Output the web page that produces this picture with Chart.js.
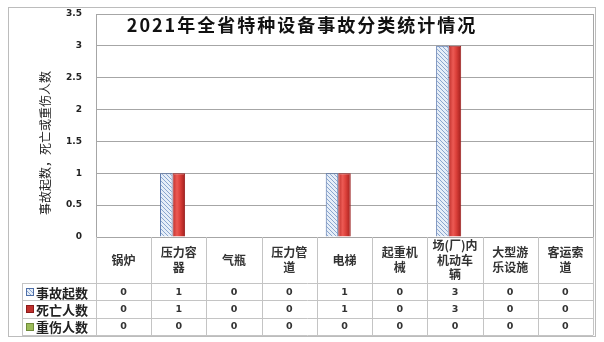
<!DOCTYPE html>
<html>
<head>
<meta charset="utf-8">
<script src="https://cdn.jsdelivr.net/npm/chart.js@4.4.1/dist/chart.umd.min.js"></script>
<style>
  body { margin: 0; background: #fff; }
  #contenedor { width: 604px; height: 342px; position: relative; }
</style>
</head>
<body>
<div id="contenedor"><canvas id="graficoAccidentes"></canvas></div>
<script>
const categorias = [
  ["锅炉"],
  ["压力容", "器"],
  ["气瓶"],
  ["压力管", "道"],
  ["电梯"],
  ["起重机", "械"],
  ["场(厂)内", "机动车", "辆"],
  ["大型游", "乐设施"],
  ["客运索", "道"],
];
const nombresSeries = ["事故起数", "死亡人数", "重伤人数"];
const accidentes = [0, 1, 0, 0, 1, 0, 3, 0, 0];
const muertes = [0, 1, 0, 0, 1, 0, 3, 0, 0];
const heridos = [0, 0, 0, 0, 0, 0, 0, 0, 0];
const ticksY = [0, 0.5, 1, 1.5, 2, 2.5, 3, 3.5];

const titulo = "2021年全省特种设备事故分类统计情况";
const tituloEjeY = "事故起数，死亡或重伤人数";

const ctx = document.getElementById("graficoAccidentes").getContext("2d");

// Patrón rayado para la serie azul
function crearRayado() {
  const c = document.createElement("canvas");
  c.width = 4;
  c.height = 4;
  const g = c.getContext("2d");
  g.fillStyle = "#e6eef8";
  g.fillRect(0, 0, 4, 4);
  g.strokeStyle = "#8aa6cf";
  g.lineWidth = 1;
  g.beginPath();
  g.moveTo(-1, -1);
  g.lineTo(5, 5);
  g.moveTo(-1, 3);
  g.lineTo(1, 5);
  g.moveTo(3, -1);
  g.lineTo(5, 1);
  g.stroke();
  return ctx.createPattern(c, "repeat");
}
const rayado = crearRayado();

const PORC_CATEGORIA = 0.68;

// Degradado horizontal para las barras rojas (calculado desde la escala)
function degradadoRojo(context) {
  const chart = context.chart;
  const x = chart.scales.x;
  if (!x || context.dataIndex === undefined) return "#d63c37";
  const centro = x.getPixelForValue(context.dataIndex);
  const ancho = (x.width / categorias.length) * PORC_CATEGORIA / 3;
  if (!isFinite(centro) || !isFinite(ancho) || ancho <= 0) return "#d63c37";
  const g = chart.ctx.createLinearGradient(centro - ancho / 2, 0, centro + ancho / 2, 0);
  g.addColorStop(0, "#c0302c");
  g.addColorStop(0.35, "#ec5a54");
  g.addColorStop(0.6, "#dc403a");
  g.addColorStop(1, "#a01e1c");
  return g;
}

const colorClave = ["#dbe6f3", "#c0302c", "#9bbb59"];

// Borde exterior del gráfico
const marco = {
  id: "marco",
  beforeDraw(chart) {
    const c = chart.ctx;
    c.save();
    c.fillStyle = "#fff";
    c.fillRect(0, 0, chart.width, chart.height);
    c.strokeStyle = "#bcbcbc";
    c.lineWidth = 1;
    c.strokeRect(8.5, 7.5, 587, 329);
    c.restore();
  },
};

// Tabla de datos debajo del área de trazado
const tablaDatos = {
  id: "tablaDatos",
  afterDraw(chart) {
    const c = chart.ctx;
    const a = chart.chartArea;
    const x = chart.scales.x;
    const n = categorias.length;
    const anchoCol = x.width / n;
    const altoCab = 46;
    const altoFila = 17.4;
    const izqLeyenda = 22;
    const filas = [accidentes, muertes, heridos];
    const yCab = a.bottom + altoCab;
    const yFin = yCab + altoFila * 3;

    c.save();
    c.strokeStyle = "#c4c4c4";
    c.lineWidth = 1;
    c.beginPath();
    for (let i = 0; i <= n; i++) {
      const px = Math.round(x.getPixelForValue(i) - anchoCol / 2) + 0.5;
      c.moveTo(px, a.bottom);
      c.lineTo(px, yFin);
    }
    c.moveTo(izqLeyenda + 0.5, yCab);
    c.lineTo(izqLeyenda + 0.5, yFin);
    for (let r = 0; r <= 3; r++) {
      const py = Math.round(yCab + r * altoFila) + 0.5;
      c.moveTo(izqLeyenda, py);
      c.lineTo(a.right, py);
    }
    c.stroke();

    // borde derecho del área de trazado
    c.strokeStyle = "#a6a6a6";
    c.beginPath();
    c.moveTo(Math.round(a.right) + 0.5, a.top);
    c.lineTo(Math.round(a.right) + 0.5, a.bottom);
    c.stroke();

    // cabeceras de categoría
    c.fillStyle = "#333";
    c.textAlign = "center";
    c.textBaseline = "middle";
    c.font = "bold 12px 'Noto Sans CJK SC'";
    categorias.forEach((lineas, i) => {
      const cx = x.getPixelForValue(i);
      const cy = a.bottom + altoCab / 2;
      const h = 14.5;
      lineas.forEach((t, k) => {
        c.fillText(t, cx, cy + (k - (lineas.length - 1) / 2) * h);
      });
    });

    // valores
    c.font = "bold 9.5px 'DejaVu Sans'";
    filas.forEach((valores, r) => {
      const cy = yCab + r * altoFila + altoFila / 2 + 0.5;
      valores.forEach((v, i) => {
        c.fillText(String(v), x.getPixelForValue(i), cy);
      });
    });

    // leyenda en la tabla
    c.textAlign = "left";
    c.font = "bold 13px 'Noto Sans CJK SC'";
    nombresSeries.forEach((nombre, r) => {
      const cy = yCab + r * altoFila + altoFila / 2;
      const kx = 26;
      const ky = Math.round(cy - 4);
      c.fillStyle = r === 0 ? rayado : colorClave[r];
      c.fillRect(kx, ky, 8, 8);
      c.strokeStyle = r === 0 ? "#4f6fa8" : r === 1 ? "#8b1a1a" : "#6f8a3a";
      c.strokeRect(kx + 0.5, ky + 0.5, 7, 7);
      c.fillStyle = "#222";
      c.fillText(nombre, 36, cy + 1);
    });

    // título del eje Y
    c.save();
    c.translate(45, 143);
    c.rotate(-Math.PI / 2);
    c.textAlign = "center";
    c.font = "12px 'Noto Sans CJK SC'";
    c.fillStyle = "#222";
    c.fillText(tituloEjeY, 0, 0);
    c.restore();

    // título principal
    c.textAlign = "center";
    c.font = "bold 18px 'Noto Sans CJK SC'";
    c.fillStyle = "#111";
    c.letterSpacing = "2px";
    c.fillText(titulo, 302, 25);
    c.restore();
  },
};

const grafico = new Chart(ctx, {
  type: "bar",
  data: {
    labels: categorias,
    datasets: [
      {
        label: nombresSeries[0],
        data: accidentes,
        backgroundColor: rayado,
        borderColor: "#4f6fa8",
        borderWidth: 1,
      },
      {
        label: nombresSeries[1],
        data: muertes,
        backgroundColor: degradadoRojo,
        borderColor: "#9a2020",
        borderWidth: 1,
      },
      {
        label: nombresSeries[2],
        data: heridos,
        backgroundColor: colorClave[2],
        borderWidth: 0,
      },
    ],
  },
  options: {
    responsive: true,
    maintainAspectRatio: false,
    animation: false,
    layout: {
      padding: { left: 8, right: 11, top: 14, bottom: 105 },
    },
    datasets: {
      bar: {
        categoryPercentage: PORC_CATEGORIA,
        barPercentage: 1,
      },
    },
    scales: {
      x: {
        display: false,
      },
      y: {
        min: 0,
        max: 3.5,
        afterFit: (escala) => {
          escala.width = 88;
        },
        afterBuildTicks: (escala) => {
          escala.ticks = ticksY.map((v) => ({ value: v }));
        },
        grid: {
          color: "#a6a6a6",
          drawTicks: true,
          tickLength: 14,
          tickColor: "rgba(0,0,0,0)",
        },
        border: {
          color: "#a6a6a6",
        },
        ticks: {
          padding: 0,
          color: "#222",
          font: { family: "'DejaVu Sans'", size: 9, weight: "bold" },
          callback: (v) => String(v),
        },
      },
    },
    plugins: {
      legend: { display: false },
      tooltip: { enabled: false },
    },
  },
  plugins: [marco, tablaDatos],
});
</script>
</body>
</html>
